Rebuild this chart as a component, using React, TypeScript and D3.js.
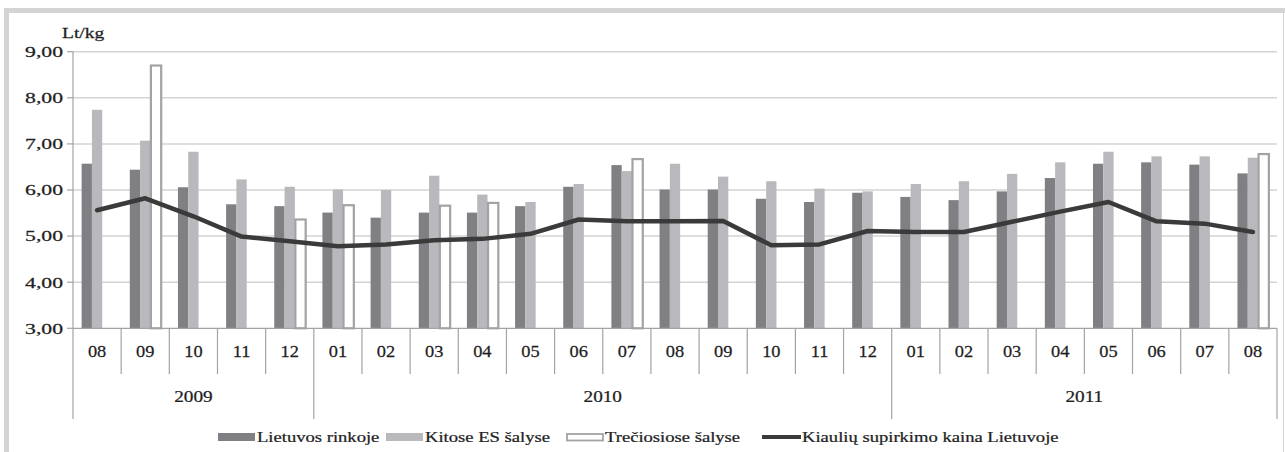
import * as d3 from 'd3';

// Months on the x axis (Aug 2009 – Aug 2011)
const months = ['08', '09', '10', '11', '12', '01', '02', '03', '04', '05', '06', '07', '08', '09', '10', '11', '12', '01', '02', '03', '04', '05', '06', '07', '08'];
const yearLabels = ['2009', '2010', '2011'];
const yearSpans = [5, 12, 8];

// Lt/kg
const lietuvosRinkoje = [6.57, 6.44, 6.06, 5.69, 5.65, 5.51, 5.40, 5.51, 5.51, 5.65, 6.07, 6.54, 6.01, 6.01, 5.81, 5.74, 5.94, 5.85, 5.78, 5.97, 6.26, 6.57, 6.60, 6.55, 6.36];
const kitoseES = [7.74, 7.07, 6.83, 6.23, 6.07, 6.01, 6.00, 6.31, 5.90, 5.74, 6.13, 6.41, 6.57, 6.29, 6.19, 6.03, 5.97, 6.13, 6.19, 6.35, 6.60, 6.83, 6.73, 6.73, 6.70];
const treciosiose: (number | null)[] = [null, 8.70, null, null, 5.36, 5.67, null, 5.66, 5.72, null, null, 6.67, null, null, null, null, null, null, null, null, null, null, null, null, 6.78];
const supirkimoKaina = [5.56, 5.82, 5.43, 4.99, 4.89, 4.78, 4.82, 4.91, 4.94, 5.05, 5.36, 5.32, 5.32, 5.33, 4.80, 4.82, 5.11, 5.09, 5.09, 5.31, 5.53, 5.74, 5.32, 5.27, 5.09];

const yTicks = [3, 4, 5, 6, 7, 8, 9];
const legendLabels = ['Lietuvos rinkoje', 'Kitose ES šalyse', 'Trečiosiose šalyse', 'Kiaulių supirkimo kaina Lietuvoje'];

const W = 1285;
const H = 452;
const FONT = '"Liberation Serif", "Times New Roman", serif';
const DARK = '#7f7f84';
const LIGHT = '#b9b9bd';
const HOLLOW = '#a3a3a3';
const LINE = '#3a3a3a';
const TEXT = '#1e1e1e';

// plot box
const left = 73;
const right = 1277;
const top = 51.7;
const bottom = 328.3;

const fmt = (v: number) => v.toFixed(2).replace('.', ',');

function SText({ x, y, sx = 1, size, anchor = 'middle', children }: any) {
  return (
    <text
      transform={`translate(${x},${y}) scale(${sx},1)`}
      textAnchor={anchor}
      dominantBaseline="central"
      fontFamily={FONT}
      fontSize={size}
      fill={TEXT}
      stroke={TEXT}
      strokeWidth={0.25}
    >
      {children}
    </text>
  );
}

export default function App() {
  const idx = months.map((_, i) => i);
  const x = d3.scaleBand<number>().domain(idx).range([left, right]).paddingInner(0).paddingOuter(0);
  const y = d3.scaleLinear().domain([3, 9]).range([bottom, top]);
  const bw = x.bandwidth();
  const barW = 10.3;
  const sub = d3.scaleBand<number>().domain([0, 1, 2]).range([(bw - 3 * barW) / 2, (bw + 3 * barW) / 2]);

  const line = d3
    .line<number>()
    .x((_, i) => (x(i) as number) + bw / 2)
    .y((d) => y(d))
    .curve(d3.curveLinear);

  // year boundaries
  const yearStarts: number[] = [];
  let acc = 0;
  yearSpans.forEach((s) => {
    yearStarts.push(acc);
    acc += s;
  });
  const edge = (i: number) => (i >= months.length ? right : (x(i) as number));

  const legendY = 437;
  const legendItems = [
    { sw: 218, tx: 257, kind: 'dark' },
    { sw: 386, tx: 425, kind: 'light' },
    { sw: 566, tx: 605, kind: 'hollow' },
    { sw: 762, tx: 802, kind: 'line' },
  ];

  return (
    <svg width={W} height={H} style={{ position: 'absolute', left: 0, top: 0, background: '#fff' }}>
      {/* frame */}
      <rect x={4} y={8} width={W - 4} height={5} fill="#d4d4d4" />
      <rect x={4} y={8} width={5} height={H - 8} fill="#d4d4d4" />
      <line x1={1283.5} x2={1283.5} y1={13} y2={H} stroke="#d6d6d6" strokeWidth={1} />

      {/* gridlines */}
      {yTicks.slice(1).map((t) => (
        <line key={t} x1={left} x2={right} y1={y(t)} y2={y(t)} stroke="#d3d3d3" strokeWidth={1.5} />
      ))}

      {/* y axis */}
      <line x1={left} x2={left} y1={top} y2={bottom} stroke="#a3a3a3" strokeWidth={1.2} />
      {yTicks.map((t) => (
        <g key={t}>
          <line x1={left - 6} x2={left} y1={y(t)} y2={y(t)} stroke="#a3a3a3" strokeWidth={1.2} />
          <SText x={63} y={y(t)} sx={1.4} size={15.5} anchor="end">{fmt(t)}</SText>
        </g>
      ))}
      <SText x={62} y={33} sx={1.3} size={15} anchor="start">Lt/kg</SText>

      {/* bars */}
      {idx.map((i) => {
        const x0 = x(i) as number;
        const t = treciosiose[i];
        return (
          <g key={i}>
            <rect x={x0 + (sub(0) as number)} y={y(lietuvosRinkoje[i])} width={barW} height={bottom - y(lietuvosRinkoje[i])} fill={DARK} />
            <rect x={x0 + (sub(1) as number)} y={y(kitoseES[i])} width={barW} height={bottom - y(kitoseES[i])} fill={LIGHT} />
            {t != null && (
              <rect x={x0 + (sub(2) as number) + 0.5} y={y(t)} width={barW} height={bottom - y(t)} fill="#fff" stroke={HOLLOW} strokeWidth={2.2} />
            )}
          </g>
        );
      })}

      {/* line */}
      <path d={line(supirkimoKaina) as string} fill="none" stroke={LINE} strokeWidth={4.5} strokeLinejoin="round" strokeLinecap="round" />

      {/* x axis */}
      <line x1={left} x2={right} y1={bottom} y2={bottom} stroke="#a3a3a3" strokeWidth={1.2} />
      {idx.slice(1).map((i) =>
        yearStarts.includes(i) ? null : (
          <line key={i} x1={edge(i)} x2={edge(i)} y1={bottom} y2={374} stroke="#a3a3a3" strokeWidth={1.2} />
        )
      )}
      {[...yearStarts, months.length].map((i) => (
        <line key={'y' + i} x1={edge(i)} x2={edge(i)} y1={bottom} y2={419} stroke="#a3a3a3" strokeWidth={1.2} />
      ))}
      {months.map((m, i) => (
        <SText key={i} x={(x(i) as number) + bw / 2} y={351} sx={1.05} size={17.5}>{m}</SText>
      ))}
      {yearLabels.map((lab, k) => {
        const a = edge(yearStarts[k]);
        const b = edge(yearStarts[k] + yearSpans[k]);
        return (
          <SText key={lab} x={(a + b) / 2} y={396} sx={1.1} size={17.5}>{lab}</SText>
        );
      })}

      {/* legend */}
      {legendItems.map((it, k) => (
        <g key={k}>
          {it.kind === 'dark' && <rect x={it.sw} y={legendY - 4} width={37} height={8} fill={DARK} />}
          {it.kind === 'light' && <rect x={it.sw} y={legendY - 4} width={37} height={8} fill={LIGHT} />}
          {it.kind === 'hollow' && <rect x={it.sw + 1} y={legendY - 3} width={36} height={6.5} fill="#fff" stroke={HOLLOW} strokeWidth={1.8} />}
          {it.kind === 'line' && <line x1={it.sw} x2={it.sw + 39} y1={legendY} y2={legendY} stroke={LINE} strokeWidth={4} />}
          <SText x={it.tx} y={legendY} sx={1.2} size={15.5} anchor="start">{legendLabels[k]}</SText>
        </g>
      ))}
    </svg>
  );
}
